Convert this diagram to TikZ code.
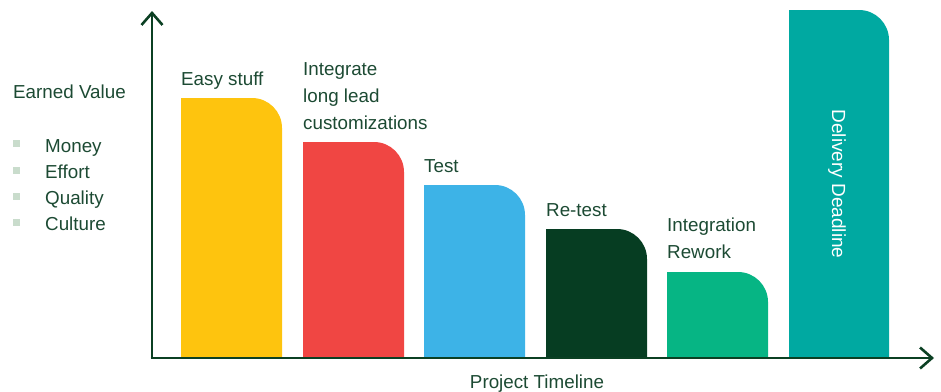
\documentclass[tikz,border=0pt]{standalone}
\usepackage{fontspec}
\setmainfont{Liberation Sans}
\usetikzlibrary{arrows.meta}
\definecolor{txt}{HTML}{1C4A33}
\definecolor{axis}{HTML}{0B4023}
\definecolor{cyellow}{HTML}{FEC40E}
\definecolor{cred}{HTML}{F04643}
\definecolor{cblue}{HTML}{3DB3E7}
\definecolor{cdark}{HTML}{063D22}
\definecolor{clight}{HTML}{06B584}
\definecolor{cteal}{HTML}{00A9A1}
\definecolor{cbullet}{HTML}{C9DCCC}
\tikzset{
  lbl/.style={inner sep=0pt, anchor=base west, align=left, text=txt, font=\fontsize{18.8}{27}\selectfont},
  axisline/.style={draw=axis, line width=2.6pt, -{Straight Barb[length=12pt,width=21pt,line width=2.6pt]}},
  bullet/.style={fill=cbullet, draw=none, minimum size=7pt, inner sep=0pt},
}
\begin{document}
\begin{tikzpicture}[x=1pt,y=-1pt]
\useasboundingbox (0,0) rectangle (941,391);
% bars (rounded top-right corner only)
\fill[cyellow] (181,357) -- (181,98) -- (252,98) arc[start angle=-90, end angle=0, radius=30] -- (282,357) -- cycle;
\fill[cred] (303,357) -- (303,142) -- (374,142) arc[start angle=-90, end angle=0, radius=30] -- (404,357) -- cycle;
\fill[cblue] (424,357) -- (424,185) -- (495,185) arc[start angle=-90, end angle=0, radius=30] -- (525,357) -- cycle;
\fill[cdark] (546,357) -- (546,229) -- (617,229) arc[start angle=-90, end angle=0, radius=30] -- (647,357) -- cycle;
\fill[clight] (667,357) -- (667,272) -- (738,272) arc[start angle=-90, end angle=0, radius=30] -- (768,357) -- cycle;
\fill[cteal] (789,357) -- (789,10) -- (859,10) arc[start angle=-90, end angle=0, radius=30] -- (889,357) -- cycle;
% axes
\coordinate (origin) at (152,358);
\coordinate (ytip) at (152,11);
\coordinate (xtip) at (934,358);
\draw[axisline] (origin) -- (ytip);
\draw[axisline] ([xshift=-1.3pt]origin) -- (xtip);
% labels
\node[lbl] (easy) at (181,85) {Easy stuff};
\node[lbl] (integ) at (303,129) {Integrate\\long lead\\customizations};
\node[lbl] (test) at (424,172) {Test};
\node[lbl] (retest) at (546,216) {Re-test};
\node[lbl] (rework) at (667,258) {Integration\\Rework};
\node[inner sep=0pt, rotate=-90, text=white, font=\fontsize{19}{22}\selectfont] (deadline) at (837,184) {Delivery Deadline};
\node[lbl, anchor=base] (timeline) at (537,388) {Project Timeline};
% legend
\node[lbl] (ev) at (13,98) {Earned Value};
\node[bullet] (b1) at (16.5,143) {};
\node[lbl] (money) at (45,152) {Money};
\node[bullet] (b2) at (16.5,170) {};
\node[lbl] (effort) at (45,178) {Effort};
\node[bullet] (b3) at (16.5,196) {};
\node[lbl] (quality) at (45,204) {Quality};
\node[bullet] (b4) at (16.5,222) {};
\node[lbl] (culture) at (45,230) {Culture};
\end{tikzpicture}
\end{document}
